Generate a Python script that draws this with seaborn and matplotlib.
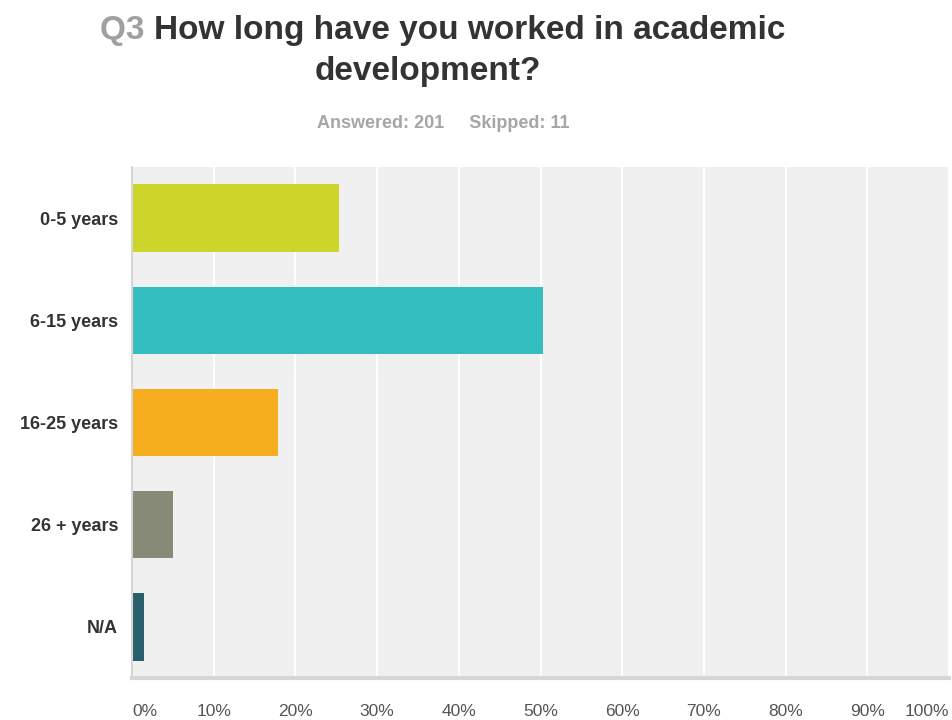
import matplotlib
matplotlib.use("Agg")
import matplotlib.pyplot as plt
import seaborn as sns
import pandas as pd

# Survey data (share of 201 answers)
categories = ["0-5 years", "6-15 years", "16-25 years", "26 + years", "N/A"]
percent = [25.37, 50.25, 17.91, 4.98, 1.49]
bar_colors = ["#CDD52A", "#33BDBF", "#F6AE1E", "#888A78", "#2A5F6E"]
x_ticks = [0, 10, 20, 30, 40, 50, 60, 70, 80, 90, 100]
x_tick_labels = [f"{t}%" for t in x_ticks]

df = pd.DataFrame({"category": categories, "percent": percent})

sns.set_theme(style="white")
plt.rcParams["font.family"] = ["Liberation Sans", "DejaVu Sans"]

fig = plt.figure(figsize=(9.52, 7.2), dpi=100)
ax = fig.add_axes([132 / 952, 1 - 678 / 720, 817 / 952, 511 / 720])
ax.set_facecolor("#F0F0F0")

sns.barplot(data=df, x="percent", y="category", hue="category",
            palette=bar_colors, orient="h", width=0.66, legend=False,
            ax=ax, saturation=1, linewidth=0, zorder=3)

ax.set_xlim(0, 100)
ax.set_ylim(4.5, -0.5)
ax.set_xticks(x_ticks)
ax.set_xticklabels(x_tick_labels)
ax.xaxis.grid(True, color="white", linewidth=1.6, zorder=0)
ax.set_axisbelow(True)
ax.set_xlabel("")
ax.set_ylabel("")

for s in ["top", "right"]:
    ax.spines[s].set_visible(False)
ax.spines["left"].set_color("#D6D6D6")
ax.spines["left"].set_linewidth(1.5)
ax.spines["left"].set_zorder(5)
ax.spines["bottom"].set_color("#D6D6D6")
ax.spines["bottom"].set_linewidth(3)

ax.tick_params(axis="x", length=0, pad=19, labelsize=12.5, labelcolor="#555555")
ax.tick_params(axis="y", length=0, pad=10, labelsize=13, labelcolor="#333333")
for lbl in ax.get_yticklabels():
    lbl.set_fontweight("bold")
xl = ax.get_xticklabels()
xl[0].set_horizontalalignment("left")
xl[-1].set_horizontalalignment("right")

# Title: grey question number followed by dark question text
renderer = fig.canvas.get_renderer()
cx = 443 / 952
t1 = fig.text(0, 1 - 39 / 720, "Q3 ", color="#A0A0A0", fontsize=24,
              fontweight="bold", ha="left", va="baseline")
t2 = fig.text(0, 1 - 39 / 720, "How long have you worked in academic",
              color="#333333", fontsize=24, fontweight="bold",
              ha="left", va="baseline")
w1 = t1.get_window_extent(renderer).width / 952
w2 = t2.get_window_extent(renderer).width / 952
start = cx - (w1 + w2) / 2
t1.set_x(start)
t2.set_x(start + w1)
fig.text(428 / 952, 1 - 80 / 720, "development?", color="#333333", fontsize=24,
         fontweight="bold", ha="center", va="baseline")

fig.text(cx, 1 - 128 / 720, "Answered: 201     Skipped: 11", color="#A6A6A6",
         fontsize=13, fontweight="bold", ha="center", va="baseline")

fig.savefig("out.png", dpi=100, facecolor="white")
